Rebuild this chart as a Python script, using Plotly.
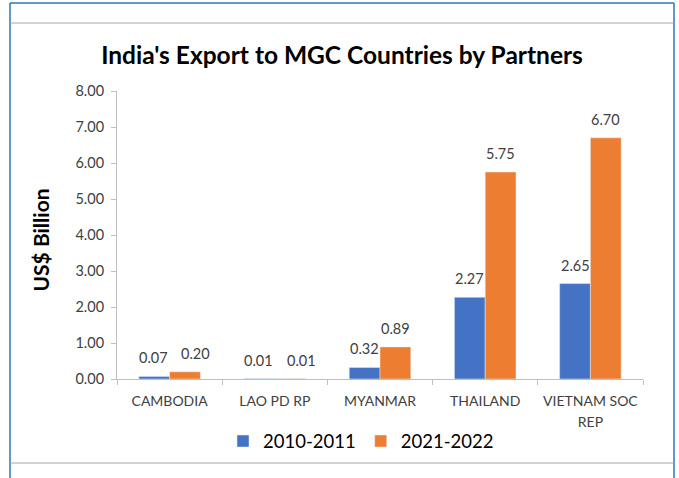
import plotly.graph_objects as go

categories = ["CAMBODIA", "LAO PD RP", "MYANMAR", "THAILAND", "VIETNAM SOC<br>REP"]
series_names = ["2010-2011", "2021-2022"]
values_2010 = [0.07, 0.01, 0.32, 2.27, 2.65]
values_2021 = [0.20, 0.01, 0.89, 5.75, 6.70]
y_ticks = [0, 1, 2, 3, 4, 5, 6, 7, 8]
colors = ["#4472C4", "#ED7D31"]

W, H = 679, 478
L, R, T, B = 117, 643, 91, 379
PW, PH = R - L, B - T
YMAX = 8
BARGAP = 0.415

def px(x):
    return (x - L) / PW

def py(y):
    return (B - y) / PH

FONT = "Lato, Calibri, Carlito, sans-serif"
LABEL_FONT = dict(size=14.5, color="#404040", family=FONT)

fig = go.Figure()
for name, vals, col in zip(series_names, [values_2010, values_2021], colors):
    fig.add_trace(go.Bar(x=categories, y=vals, name=name, marker=dict(color=col)))

# data labels (positioned from the data, nudged apart when they would collide)
half = (1 - BARGAP) / 4
annotations = []
px_per_unit = PH / YMAX
for i, (a, b) in enumerate(zip(values_2010, values_2021)):
    collide = abs(b - a) * px_per_unit < 14
    for j, v in enumerate((a, b)):
        nudge = 0
        if collide:
            nudge = 11 if j == 1 else -1
        annotations.append(dict(
            x=i + (-half if j == 0 else half), y=v, xref="x", yref="y",
            text=f"{v:.2f}", showarrow=False, yanchor="bottom", xanchor="center",
            yshift=8, xshift=nudge, font=LABEL_FONT))

annotations.append(dict(text="<b>US$ Billion</b>", textangle=-90, x=px(39.5), y=py(240),
                        xref="paper", yref="paper", showarrow=False,
                        xanchor="center", yanchor="middle",
                        font=dict(size=21, color="#000000", family=FONT)))

shapes = []
blue = "#2E75B6"
gray = "#A6A6A6"
def line(x0, y0, x1, y1, color, w=1.5):
    shapes.append(dict(type="line", xref="paper", yref="paper",
                       x0=px(x0), y0=py(y0), x1=px(x1), y1=py(y1),
                       line=dict(color=color, width=w)))
line(10, 3, 674, 3, blue)
line(10, 3, 10, 478, blue)
line(674, 3, 674, 478, blue)
line(10, 23, 674, 23, gray, 1)
line(10, 463, 674, 463, gray, 1)

tick_text = [f"<span style='font-size:14px'>{c}</span>".replace("<br>", "</span><br><span style='font-size:14px'>")
             for c in categories]

fig.update_layout(
    width=W, height=H,
    margin=dict(l=L, r=W - R, t=T, b=H - B, pad=0, autoexpand=False),
    paper_bgcolor="white", plot_bgcolor="white",
    font=dict(family=FONT, color="#595959", size=14),
    barmode="group", bargap=BARGAP, bargroupgap=0,
    title=dict(text="<b>India's Export to MGC Countries by Partners</b>",
               x=342 / W, xanchor="center", xref="container",
               y=1 - 55 / H, yanchor="middle", yref="container",
               font=dict(size=24.5, color="#000000", family=FONT)),
    xaxis=dict(showline=True, linecolor="#BFBFBF", linewidth=1, automargin=False,
               ticks="outside", tickson="boundaries", ticklen=5, tickcolor="#BFBFBF",
               tickmode="array", tickvals=categories, ticktext=tick_text,
               ticklabelstandoff=6,
               tickfont=dict(size=16.5, color="#404040"), showgrid=False),
    yaxis=dict(range=[0, YMAX], tickvals=y_ticks, tickformat=".2f", automargin=False,
               showline=True, linecolor="#BFBFBF", linewidth=1,
               ticks="outside", ticklen=5, tickcolor="#BFBFBF", ticklabelstandoff=4,
               tickfont=dict(size=14.5, color="#404040"), showgrid=False, zeroline=False),
    legend=dict(orientation="h", x=361 / W, xanchor="center", xref="container",
                y=1 - 441.5 / H, yanchor="middle", yref="container",
                font=dict(size=18.5, color="#000000"), traceorder="normal"),
    shapes=shapes,
    annotations=annotations,
)

fig.write_html("out.html", config={"displayModeBar": False},
               post_script="document.body.style.margin='0px';document.body.style.overflow='hidden';")
